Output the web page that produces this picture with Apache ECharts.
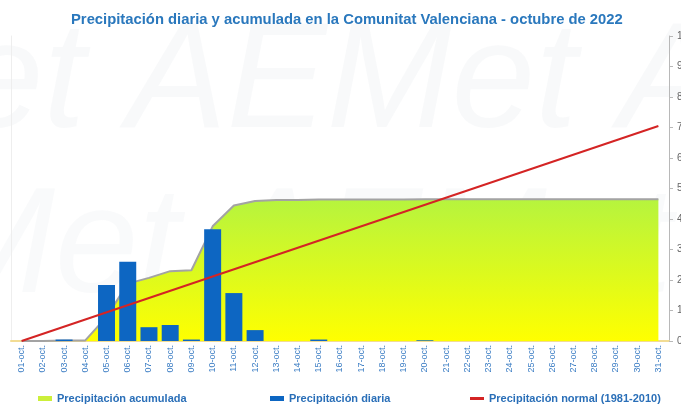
<!DOCTYPE html>
<html>
<head>
<meta charset="utf-8">
<script src="https://cdn.jsdelivr.net/npm/echarts@6/dist/echarts.min.js"></script>
<style>
  html, body { margin: 0; padding: 0; background: #fff; }
  #chart { width: 681px; height: 405px; }
</style>
</head>
<body>
<div id="chart"></div>
<script>
// dias del mes
const days = ['01-oct.', '02-oct.', '03-oct.', '04-oct.', '05-oct.', '06-oct.', '07-oct.', '08-oct.', '09-oct.', '10-oct.',
  '11-oct.', '12-oct.', '13-oct.', '14-oct.', '15-oct.', '16-oct.', '17-oct.', '18-oct.', '19-oct.', '20-oct.',
  '21-oct.', '22-oct.', '23-oct.', '24-oct.', '25-oct.', '26-oct.', '27-oct.', '28-oct.', '29-oct.', '30-oct.', '31-oct.'];

// precipitacion diaria (mm)
const daily = [0, 0, 0.2, 0, 7.7, 10.9, 1.9, 2.2, 0.2, 15.4,
  6.6, 1.5, 0, 0, 0.2, 0, 0, 0, 0, 0.1,
  0, 0, 0, 0, 0, 0, 0, 0, 0, 0, 0];

// precipitacion acumulada (mm)
const accumulated = [0, 0, 0.2, 0.2, 7.9, 18.8, 20.7, 22.9, 23.2, 37.6,
  44.4, 45.9, 46.2, 46.2, 46.4, 46.4, 46.4, 46.4, 46.4, 46.5,
  46.5, 46.5, 46.5, 46.5, 46.5, 46.5, 46.5, 46.5, 46.5, 46.5, 46.5];

// precipitacion normal 1981-2010: recta del primer al ultimo dia
const normal = [0, null, null, null, null, null, null, null, null, null,
  null, null, null, null, null, null, null, null, null, null,
  null, null, null, null, null, null, null, null, null, null, 70.5];

// eje derecho (mm)
const rightTicks = [0, 10, 20, 30, 40, 50, 60, 70, 80, 90, 100];

const chart = echarts.init(document.getElementById('chart'), null, { renderer: 'canvas' });

const legendText = { color: '#2a6fb8', fontSize: 11, fontWeight: 'bold', fontFamily: 'Liberation Sans, Arial, sans-serif' };

const option = {
  animation: false,
  backgroundColor: '#fff',
  title: {
    text: 'Precipitación diaria y acumulada en la Comunitat Valenciana - octubre de 2022',
    left: 66,
    top: 7,
    textStyle: { color: '#2a78bd', fontSize: 14.8, fontWeight: 'bold', fontFamily: 'Liberation Sans, Arial, sans-serif' }
  },
  // marca de agua AEMet
  graphic: [
    { type: 'text', left: -40, top: 10, z: -10, silent: true,
      style: { text: 'et AEMet A', font: 'italic 150px Liberation Sans', fill: 'rgba(200,205,215,0.12)' } },
    { type: 'text', left: -70, top: 175, z: -10, silent: true,
      style: { text: 'Met AEMet A', font: 'italic 150px Liberation Sans', fill: 'rgba(200,205,215,0.10)' } }
  ],
  legend: [
    { data: ['Precipitación acumulada'], left: 33, top: 388, icon: 'rect', itemWidth: 14, itemHeight: 5, textStyle: legendText },
    { data: ['Precipitación diaria'], left: 265, top: 388, icon: 'rect', itemWidth: 14, itemHeight: 5, textStyle: legendText },
    { data: ['Precipitación normal (1981-2010)'], left: 465, top: 388, icon: 'rect', itemWidth: 14, itemHeight: 3, textStyle: legendText }
  ],
  grid: { left: 11, right: 12, top: 36, bottom: 64, containLabel: false, outerBoundsMode: 'none' },
  xAxis: {
    type: 'category',
    data: days,
    boundaryGap: true,
    axisLine: { lineStyle: { color: '#f2dc94', width: 2 } },
    axisTick: { show: false },
    axisLabel: { rotate: 90, margin: 4, color: '#3b7dc4', fontSize: 9, fontFamily: 'Liberation Sans, Arial, sans-serif', interval: 0 }
  },
  yAxis: [
    {
      type: 'value', position: 'left', min: 0, max: 42,
      axisLine: { show: true, lineStyle: { color: '#eeeeee' } },
      axisTick: { show: false }, axisLabel: { show: false }, splitLine: { show: false }
    },
    {
      type: 'value', position: 'right', min: rightTicks[0], max: rightTicks[rightTicks.length - 1], interval: 10,
      axisLine: { show: true, lineStyle: { color: '#b8b8b8' } },
      axisTick: { show: true, length: 4, lineStyle: { color: '#b8b8b8' } },
      axisLabel: { color: '#666', fontSize: 10, margin: 8 },
      splitLine: { show: false }
    }
  ],
  series: [
    {
      name: 'Precipitación acumulada',
      type: 'line',
      yAxisIndex: 1,
      data: accumulated,
      symbol: 'none',
      color: '#ccef3a',
      lineStyle: { color: '#a3a3a3', width: 2 },
      areaStyle: {
        opacity: 1,
        color: new echarts.graphic.LinearGradient(0, 0, 0, 1, [
          { offset: 0, color: '#b6f43e' },
          { offset: 1, color: '#ffff00' }
        ])
      },
      z: 1
    },
    {
      name: 'Precipitación diaria',
      type: 'bar',
      yAxisIndex: 0,
      data: daily,
      barWidth: '80%',
      color: '#0d66c2',
      itemStyle: { color: '#0d66c2', borderWidth: 0 },
      z: 2
    },
    {
      name: 'Precipitación normal (1981-2010)',
      type: 'line',
      yAxisIndex: 1,
      data: normal,
      connectNulls: true,
      symbol: 'none',
      color: '#d42424',
      lineStyle: { color: '#d42424', width: 2 },
      z: 3
    }
  ]
};

chart.setOption(option);
</script>
</body>
</html>
